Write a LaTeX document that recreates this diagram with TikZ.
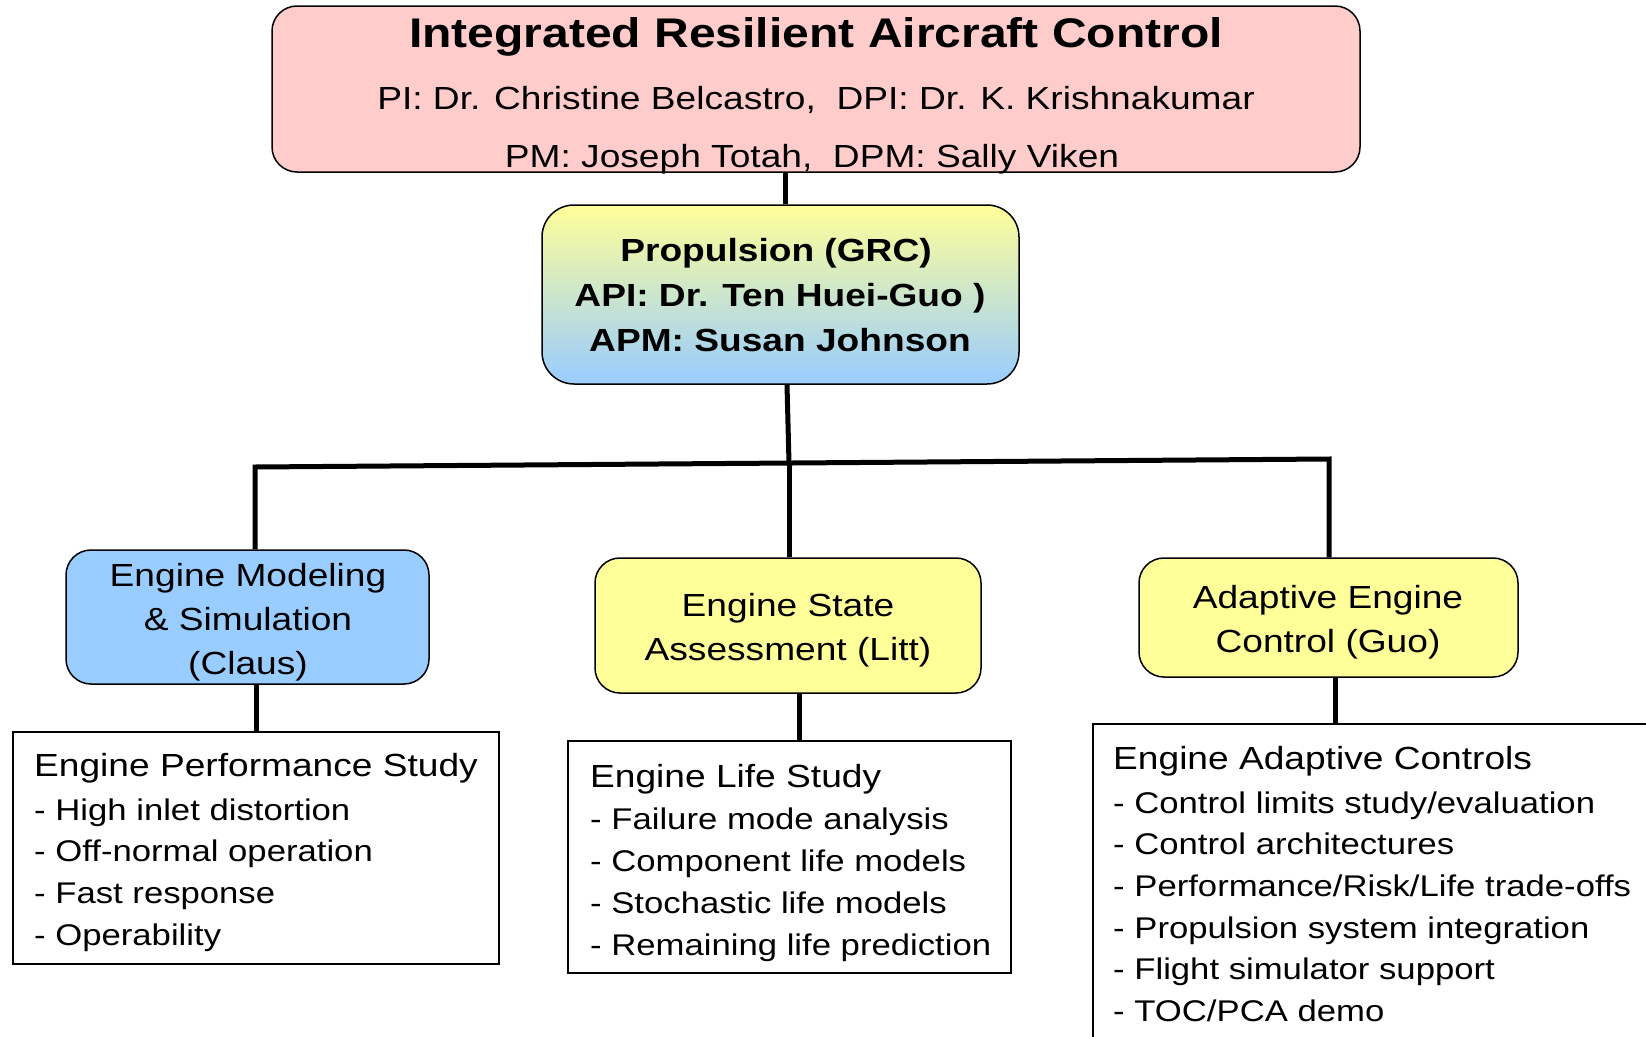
\documentclass[tikz,border=0pt]{standalone}
\usepackage{fontspec}
\setmainfont{Liberation Sans}[FakeStretch=1.16]
\definecolor{pinkfill}{HTML}{FFCCCC}
\definecolor{yellowfill}{HTML}{FFFF99}
\definecolor{bluefill}{HTML}{99CCFF}
\begin{document}
\begin{tikzpicture}[x=1pt,y=-1pt,
  conn/.style={line width=5pt, line join=miter},
  rbox/.style={draw=black, line width=1.5pt, rounded corners=25pt, inner sep=0pt},
  wbox/.style={draw=black, line width=1.5pt, fill=white, inner sep=0pt},
  body/.style={font=\fontsize{32}{38}\selectfont, inner sep=0pt},
  item/.style={font=\fontsize{29.9}{36}\selectfont, inner sep=0pt},
  bodyb/.style={font=\fontsize{32}{38}\selectfont\bfseries, inner sep=0pt},
  titletext/.style={font=\fontsize{41.4}{48}\selectfont\bfseries, inner sep=0pt}
]
\clip (0,0) rectangle (1646,1036);

% boxes
\node[rbox, fill=pinkfill, minimum width=1088pt, minimum height=166pt] (top) at (816,89) {};
\node[rbox, rounded corners=32pt, top color=yellowfill, bottom color=bluefill,
      minimum width=477pt, minimum height=179pt] (prop) at (780.5,294.5) {};
\node[rbox, fill=bluefill, minimum width=363pt, minimum height=134pt] (ml) at (247.5,617) {};
\node[rbox, fill=yellowfill, minimum width=386pt, minimum height=135pt] (ms) at (788,625.5) {};
\node[rbox, fill=yellowfill, minimum width=379pt, minimum height=119pt] (mr) at (1328.5,617.5) {};
\node[wbox, minimum width=486pt, minimum height=232pt] (wl) at (256,848) {};
\node[wbox, minimum width=443pt, minimum height=232pt] (wm) at (789.5,857) {};
\node[wbox, minimum width=567pt, minimum height=336pt] (wr) at (1376.5,892) {};

% connectors
\coordinate (jl) at (255,467);
\coordinate (jr) at (1329,459);
\coordinate (jm) at (789,463);
\draw[conn] ([xshift=4.5pt]prop.north) -- ([xshift=4.5pt]prop.north |- top.south);
\draw[conn] ([xshift=6.5pt]prop.south) -- (jm);
\draw[conn] (jl |- ml.north) -- (jl) -- (jr) -- (jr |- mr.north);
\draw[conn] (jm) -- (jm |- ms.north);
\draw[conn] (wl.north) -- (wl.north |- ml.south);
\draw[conn] ([xshift=11pt]ms.south) -- ([xshift=11pt]ms.south |- wm.north);
\draw[conn] ([xshift=6.5pt]mr.south) -- ([xshift=6.5pt]mr.south |- wr.north);

% top box text
\node[titletext, anchor=base] (t1) at (816,47) {Integrated Resilient Aircraft Control};
\node[body, anchor=base] (t2) at (816,109) {PI: Dr. Christine Belcastro,\ \ DPI: Dr. K. Krishnakumar};
\node[body, anchor=base] (t3) at (812,167) {PM: Joseph Totah,\ \ DPM: Sally Viken};

% propulsion text
\node[bodyb, anchor=base] (p1) at (776,261.5) {Propulsion (GRC)};
\node[bodyb, anchor=base] (p2) at (780,306.5) {API: Dr. Ten Huei-Guo )};
\node[bodyb, anchor=base] (p3) at (780,351.5) {APM: Susan Johnson};

% task boxes text
\node[body, anchor=base] (l1) at (248,586) {Engine Modeling};
\node[body, anchor=base] (l2) at (248,630) {\& Simulation};
\node[body, anchor=base] (l3) at (248,674) {(Claus)};
\node[body, anchor=base] (s1) at (788,616.5) {Engine State};
\node[body, anchor=base] (s2) at (788,660.5) {Assessment (Litt)};
\node[body, anchor=base] (r1) at (1328,608) {Adaptive Engine};
\node[body, anchor=base] (r2) at (1328,652) {Control (Guo)};

% study lists: heading, then items
\node[body, anchor=base west] (wla1) at (34,776.7) {Engine Performance Study};
\foreach \txt/\yy [count=\i from 2] in {- High inlet distortion/820.8,
    - Off-normal operation/861.8, - Fast response/903.7, - Operability/945.7}
  \node[item, anchor=base west] (wla\i) at (34,\yy) {\txt};
\node[body, anchor=base west] (wma1) at (590,787) {Engine Life Study};
\foreach \txt/\yy [count=\i from 2] in {- Failure mode analysis/829,
    - Component life models/871, - Stochastic life models/913, - Remaining life prediction/955}
  \node[item, anchor=base west] (wma\i) at (590,\yy) {\txt};
\node[body, anchor=base west] (wra1) at (1113,769) {Engine Adaptive Controls};
\foreach \txt/\yy [count=\i from 2] in {- Control limits study{/}evaluation/813.5,
    - Control architectures/854.5, - Performance{/}Risk{/}Life trade-offs/896.5,
    - Propulsion system integration/938.5, - Flight simulator support/979, - TOC{/}PCA demo/1021}
  \node[item, anchor=base west] (wra\i) at (1113,\yy) {\txt};
\end{tikzpicture}
\end{document}
